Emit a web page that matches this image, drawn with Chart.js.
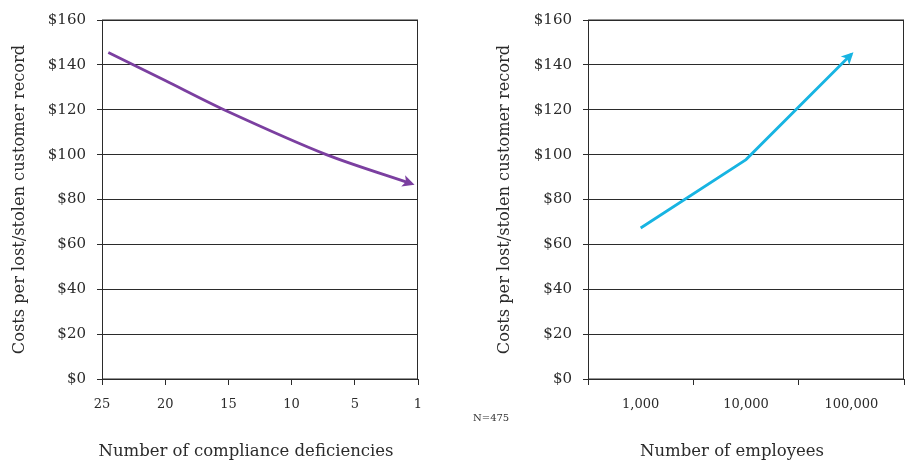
<!DOCTYPE html>
<html>
<head>
<meta charset="utf-8">
<script src="https://cdn.jsdelivr.net/npm/chart.js@4/dist/chart.umd.min.js"></script>
<style>
  body { margin: 0; background: #fff; }
  #wrap { position: relative; width: 905px; height: 460px; }
  #c1 { position: absolute; left: 0; top: 0; }
  #c2 { position: absolute; left: 450px; top: 0; }
  #note { position: absolute; left: 473px; top: 412px; font: 10px "DejaVu Serif"; color: #333; }
</style>
</head>
<body>
<div id="wrap">
  <canvas id="c1" width="440" height="460"></canvas>
  <canvas id="c2" width="455" height="460"></canvas>
  <div id="note">N=475</div>
</div>
<script>
// --- data ---
const yTitle = "Costs per lost/stolen customer record";

// left chart: x is the position along the (evenly spaced) deficiency axis
const deficiencyLabels = ["25", "20", "15", "10", "5", "1"];
const deficiencyPos = [0.1, 1.0, 1.93, 3.55, 4.9];
const deficiencyCost = [145.5, 133, 120, 100, 87];

// right chart
const employeeLabels = ["1,000", "10,000", "100,000"];
const employeeCost = [67.3, 97.8, 144.7];

const yMax = 160;
const yStep = 20;

const FONT = "'DejaVu Serif', serif";
const INK = "#2b2b2b";

// arrow head at the end of each line, box around plot, x axis title
const decoPlugin = {
  id: "deco",
  beforeDatasetsDraw(chart) {
    const { left, top, right, bottom } = chart.chartArea;
    const ctx = chart.ctx;
    ctx.save();
    ctx.strokeStyle = INK;
    ctx.lineWidth = 1;
    ctx.strokeRect(left + 0.5, top, right - left - 1, bottom - top);
    ctx.restore();
  },
  afterDatasetsDraw(chart) {
    const ctx = chart.ctx;
    const pts = chart.getDatasetMeta(0).data;
    const a = pts[pts.length - 2], b = pts[pts.length - 1];
    const ang = Math.atan2(b.y - a.y, b.x - a.x);
    ctx.save();
    ctx.translate(b.x, b.y);
    ctx.rotate(ang);
    ctx.fillStyle = chart.data.datasets[0].borderColor;
    ctx.beginPath();
    ctx.moveTo(3, 0);
    ctx.lineTo(-9, -6);
    ctx.lineTo(-6, 0);
    ctx.lineTo(-9, 6);
    ctx.closePath();
    ctx.fill();
    ctx.restore();
  },
  afterDraw(chart, args, opts) {
    const { left, right } = chart.chartArea;
    const ctx = chart.ctx;
    ctx.save();
    ctx.fillStyle = INK;
    ctx.font = "16.5px " + FONT;
    ctx.textAlign = "center";
    ctx.textBaseline = "alphabetic";
    ctx.fillText(opts.text, (left + right) / 2 - 14, chart.height - 4.5);
    ctx.restore();
  }
};

function yScale(width, titlePad) {
  return {
    min: 0,
    max: yMax,
    afterFit: s => { s.width = width; },
    ticks: {
      stepSize: yStep,
      padding: 11,
      color: INK,
      font: { family: FONT, size: 15 },
      callback: v => "$" + v
    },
    grid: { color: INK, lineWidth: 1, tickLength: 5 },
    border: { color: INK },
    title: {
      display: true,
      text: yTitle,
      color: INK,
      font: { family: FONT, size: 16.2 },
      padding: { top: titlePad, bottom: 0 }
    }
  };
}

const xTicks = {
  color: INK,
  padding: 12,
  font: { family: FONT, size: 13 }
};
const xGrid = { drawOnChartArea: false, color: INK, tickLength: 6 };

// --- Chart 1: compliance deficiencies ---
new Chart(document.getElementById("c1"), {
  type: "line",
  data: {
    datasets: [{
      data: deficiencyPos.map((x, i) => ({ x: x, y: deficiencyCost[i] })),
      borderColor: "#7B3FA0",
      borderWidth: 2.8,
      pointRadius: 0,
      tension: 0.3
    }]
  },
  options: {
    responsive: false,
    animation: false,
    layout: { padding: { top: 10, right: 22, left: 0, bottom: 0 } },
    plugins: {
      legend: { display: false },
      tooltip: { enabled: false },
      deco: { text: "Number of compliance deficiencies" }
    },
    scales: {
      x: {
        type: "linear",
        min: 0,
        max: deficiencyLabels.length - 1,
        afterFit: s => { s.height = 81; },
        afterBuildTicks: s => {
          s.ticks = deficiencyLabels.map((l, i) => ({ value: i }));
        },
        ticks: Object.assign({ callback: (v, i) => deficiencyLabels[i] }, xTicks),
        grid: xGrid,
        border: { color: INK }
      },
      y: yScale(102, 10)
    }
  },
  plugins: [decoPlugin]
});

// --- Chart 2: employees ---
new Chart(document.getElementById("c2"), {
  type: "line",
  data: {
    labels: employeeLabels,
    datasets: [{
      data: employeeCost,
      borderColor: "#17B4E2",
      borderWidth: 2.8,
      pointRadius: 0,
      tension: 0
    }]
  },
  options: {
    responsive: false,
    animation: false,
    layout: { padding: { top: 10, right: 1, left: 0, bottom: 0 } },
    plugins: {
      legend: { display: false },
      tooltip: { enabled: false },
      deco: { text: "Number of employees" }
    },
    scales: {
      x: {
        type: "category",
        offset: true,
        afterFit: s => { s.height = 81; },
        ticks: xTicks,
        grid: Object.assign({ offset: true }, xGrid),
        border: { color: INK }
      },
      y: yScale(138, 45)
    }
  },
  plugins: [decoPlugin]
});
</script>
</body>
</html>
